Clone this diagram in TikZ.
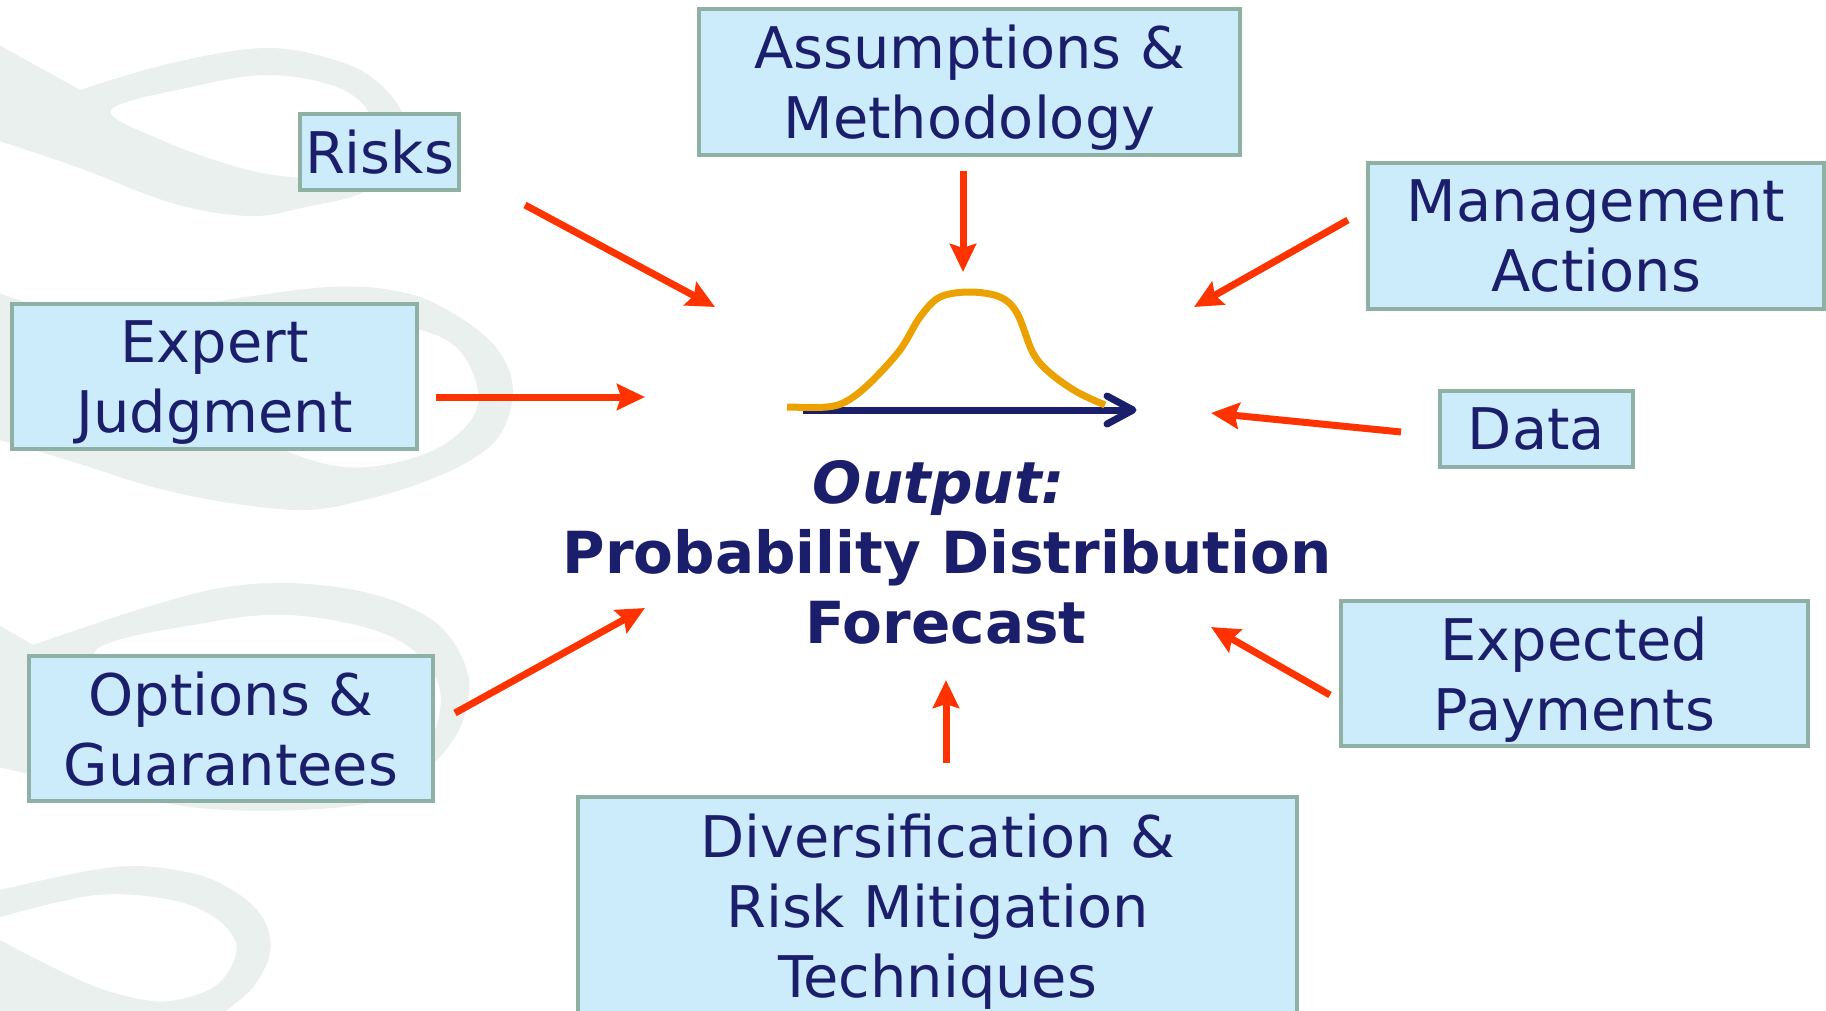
\documentclass[tikz,border=0pt]{standalone}
\usepackage{fontspec}
\setmainfont{DejaVu Sans}[BoldFont={DejaVu Sans Bold},ItalicFont={DejaVu Sans Oblique},BoldItalicFont={DejaVu Sans Bold Oblique}]
\usetikzlibrary{arrows.meta}
\definecolor{navy}{HTML}{1B1E6B}
\definecolor{boxfill}{HTML}{CCECFC}
\definecolor{boxborder}{HTML}{8FB1A3}
\definecolor{arrowred}{HTML}{FF3300}
\definecolor{curveorange}{HTML}{EBA200}
\definecolor{swirlgrey}{HTML}{E9F0EE}
\newcommand\boxfont{\fontsize{28.7pt}{35pt}\selectfont}
\newcommand\outfont{\fontsize{29pt}{35pt}\selectfont\bfseries}
\begin{document}
\begin{tikzpicture}[x=0.5pt,y=-0.5pt,
  swirl/.style={fill=swirlgrey},
  box/.style={draw=boxborder, fill=boxfill, line width=2pt, text=navy, font=\boxfont,
    align=center, inner sep=1pt, text depth=0pt},
  outtext/.style={text=navy, font=\outfont, inner sep=0pt, anchor=base},
  arr/.style={draw=arrowred, line width=3.5pt, -{Stealth[length=14pt,width=13pt,inset=2pt]}}]
\useasboundingbox (0,0) rectangle (1826,1011);
\fill[white] (0,0) rectangle (1826,1011);
\clip (0,0) rectangle (1826,1011);
% background swirls
\fill[swirl, even odd rule]
 (-10,40) -- plot[smooth, tension=0.6] coordinates {(80,90) (172,63) (268,48) (344,63) (383,87) (405,120) (405,160) (364,192) (306,207) (249,216) (172,203) (77,167) (-10,138)} -- cycle
 plot[smooth cycle, tension=0.6] coordinates {(111,110) (191,87) (268,75) (337,87) (370,115) (365,155) (330,175) (291,177) (237,167) (161,140)};
\fill[swirl, even odd rule]
 (-10,290) -- (120,335) -- plot[smooth, tension=0.6] coordinates {(214,302) (329,287) (406,293) (459,317) (498,350) (513,390) (501,433) (471,460) (421,483) (364,500) (306,510) (230,503) (153,487) (77,463) (-10,437)} -- cycle
 plot[smooth cycle, tension=0.6] coordinates {(150,360) (250,328) (350,320) (421,330) (459,350) (478,390) (471,420) (440,447) (394,463) (344,467) (291,453) (220,420)};
\fill[swirl, even odd rule]
 (-10,620) -- (33,645) -- plot[smooth, tension=0.6] coordinates {(115,617) (210,590) (287,583) (364,592) (421,613) (452,640) (469,680) (463,720) (448,747) (425,770) (380,800) (300,810) (200,808) (100,790) (-10,765)} -- cycle
 plot[smooth cycle, tension=0.6] coordinates {(96,650) (210,622) (287,615) (364,627) (413,650) (440,690) (430,740) (390,770) (300,775) (200,755) (140,700)};
\fill[swirl, even odd rule]
 (-10,890) -- plot[smooth, tension=0.6] coordinates {(0,890) (115,867) (191,873) (237,893) (264,920) (270,953) (253,987) (225,1012) (215,1025)} -- (-10,1025) -- cycle
 (-10,917) -- plot[smooth, tension=0.6] coordinates {(0,917) (96,895) (172,900) (214,917) (235,940) (233,963) (214,987) (176,1000) (145,1000) (96,987) (38,960) (0,940)} -- (-10,940) -- cycle;
% boxes
\node[box, minimum width=270.5pt, minimum height=73pt] (assume) at (969.5,82) {Assumptions \&\\Methodology};
\node[box, minimum width=79.5pt, minimum height=38pt] (risks) at (379.5,152) {Risks};
\node[box, minimum width=228pt, minimum height=73pt] (mgmt) at (1596,236) {Management\\Actions};
\node[box, minimum width=202.5pt, minimum height=72.5pt] (expert) at (214.5,376.5) {Expert\\Judgment};
\node[box, minimum width=96.5pt, minimum height=38pt] (data) at (1536.5,429) {Data};
\node[box, minimum width=202pt, minimum height=72.5pt] (options) at (231,728.5) {Options \&\\Guarantees};
\node[box, minimum width=233.5pt, minimum height=72.5pt] (expected) at (1574.5,673.5) {Expected\\Payments};
\node[box, minimum width=359.5pt, minimum height=109pt] (divers) at (937.5,906) {Diversification \&\\Risk Mitigation\\Techniques};
% central graphic
\coordinate (axs) at (803,410);
\coordinate (axe) at (1131,410);
\draw[navy, line width=3.5pt] (axs) -- (axe);
\draw[navy, line width=3.5pt, line cap=round, line join=round] (1107,396) -- (1133,410) -- (1107,424);
\draw[curveorange, line width=3.5pt] plot[smooth, tension=0.55] coordinates {(787,407) (827,407) (847,401) (870,383) (900,350) (920,317) (940,297) (970,292) (1000,297) (1017,313) (1033,353) (1050,373) (1077,392) (1105,405)};
% central text
\node[outtext] (out1) at (939,503) {\itshape Output:};
\node[outtext] (out2) at (947,573) {Probability Distribution};
\node[outtext] (out3) at (946,643) {Forecast};
% arrow targets
\coordinate (rk2) at (715,307);
\coordinate (as2) at (963,272);
\coordinate (mg2) at (1194,307);
\coordinate (ex2) at (645,397);
\coordinate (da2) at (1211,413);
\coordinate (op2) at (645,608);
\coordinate (ep2) at (1211,627);
\coordinate (dv2) at (946,680);
% arrows
\draw[arr] ([shift={(64,13)}]risks.south east) -- (rk2);
\draw[arr] ([shift={(-6.5,14)}]assume.south) -- (as2);
\draw[arr] ([shift={(-18,-16)}]mgmt.west) -- (mg2);
\draw[arr] ([shift={(17,20.5)}]expert.east) -- (ex2);
\draw[arr] ([shift={(-37,3)}]data.west) -- (da2);
\draw[arr] ([shift={(20,-15.5)}]options.east) -- (op2);
\draw[arr] ([shift={(-9,21.5)}]expected.west) -- (ep2);
\draw[arr] ([shift={(8.5,-32)}]divers.north) -- (dv2);
\end{tikzpicture}
\end{document}
